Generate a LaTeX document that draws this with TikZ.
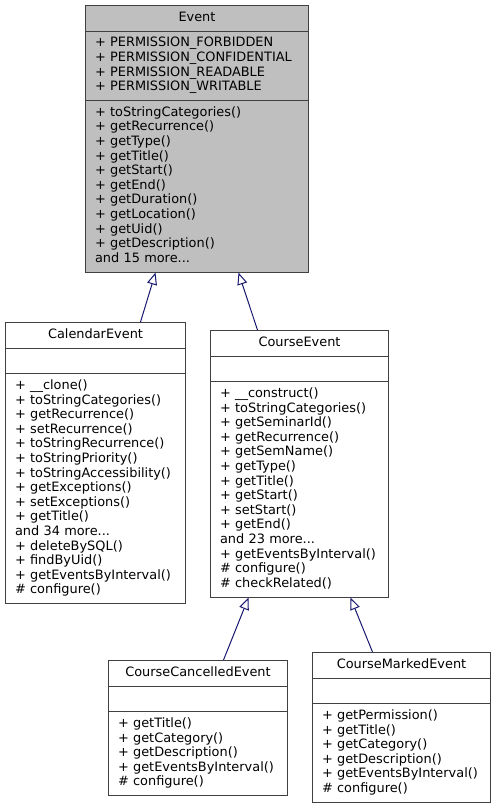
\documentclass[tikz,border=0pt]{standalone}
\usepackage{fontspec}
\setmainfont{DejaVu Sans}
\usetikzlibrary{shapes}
\usetikzlibrary{arrows.meta}
\definecolor{edgeblue}{RGB}{25,25,112}
\definecolor{boxline}{RGB}{64,64,64}
\definecolor{basegray}{RGB}{191,191,191}

\begin{document}
\begin{tikzpicture}[x=1pt,y=-1pt]
	\tikzstyle{umlclass}=[rectangle split, rectangle split parts=3, draw=boxline, line width=1pt, fill=white, anchor=north west, align=left, inner xsep=9.5pt, inner ysep=5pt, font=\fontsize{12.9}{14.6}\selectfont]
	\tikzstyle{inherit}=[draw=edgeblue, line width=1pt, -{Triangle[open,length=12pt,width=10pt]}]
	\useasboundingbox (0,0) rectangle (495,808);

	\node[umlclass, fill=basegray, text width=204pt] (event) at (85,5)
		{\strut\hfill Event\hfill\null
		\nodepart{two}\strut + PERMISSION\_FORBIDDEN\\ + PERMISSION\_CONFIDENTIAL\\ + PERMISSION\_READABLE\\ + PERMISSION\_WRITABLE\strut
		\nodepart{three}\strut + toStringCategories()\\ + getRecurrence()\\ + getType()\\ + getTitle()\\ + getStart()\\ + getEnd()\\ + getDuration()\\ + getLocation()\\ + getUid()\\ + getDescription()\\ and 15 more...\strut};

	\node[umlclass, text width=161pt] (calendar) at (5,322)
		{\strut\hfill CalendarEvent\hfill\null
		\nodepart{two}\strut
		\nodepart{three}\strut + \_\_clone()\\ + toStringCategories()\\ + getRecurrence()\\ + setRecurrence()\\ + toStringRecurrence()\\ + toStringPriority()\\ + toStringAccessibility()\\ + getExceptions()\\ + setExceptions()\\ + getTitle()\\ and 34 more...\\ + deleteBySQL()\\ + findByUid()\\ + getEventsByInterval()\\ \# configure()\strut};

	\node[umlclass, text width=159pt] (course) at (210,330)
		{\strut\hfill CourseEvent\hfill\null
		\nodepart{two}\strut
		\nodepart{three}\strut + \_\_construct()\\ + toStringCategories()\\ + getSeminarId()\\ + getRecurrence()\\ + getSemName()\\ + getType()\\ + getTitle()\\ + getStart()\\ + setStart()\\ + getEnd()\\ and 23 more...\\ + getEventsByInterval()\\ \# configure()\\ \# checkRelated()\strut};

	\node[umlclass, text width=160pt] (cancelled) at (108,660)
		{\strut\hfill CourseCancelledEvent\hfill\null
		\nodepart{two}\strut
		\nodepart{three}\strut + getTitle()\\ + getCategory()\\ + getDescription()\\ + getEventsByInterval()\\ \# configure()\strut};

	\node[umlclass, text width=159pt] (marked) at (312,652)
		{\strut\hfill CourseMarkedEvent\hfill\null
		\nodepart{two}\strut
		\nodepart{three}\strut + getPermission()\\ + getTitle()\\ + getCategory()\\ + getDescription()\\ + getEventsByInterval()\\ \# configure()\strut};

	\draw[inherit] ([xshift=45pt]calendar.north) -- ([xshift=-41.5pt]event.south);
	\draw[inherit] ([xshift=-42pt]course.north) -- ([xshift=41.5pt]event.south);
	\draw[inherit] ([xshift=25.5pt]cancelled.north) -- ([xshift=-51pt]course.south);
	\draw[inherit] ([xshift=-29pt]marked.north) -- ([xshift=51pt]course.south);
\end{tikzpicture}
\end{document}
